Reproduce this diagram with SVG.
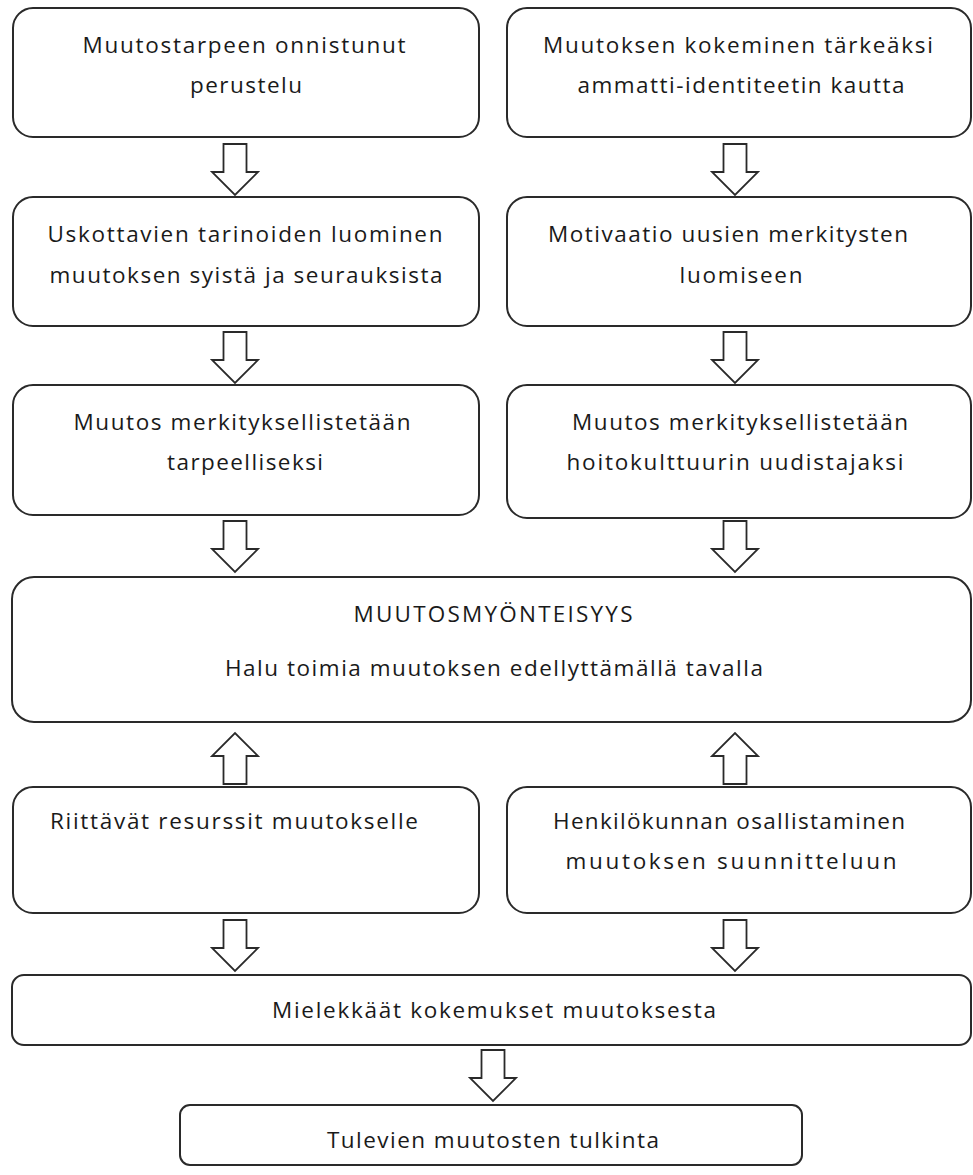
<svg xmlns="http://www.w3.org/2000/svg" width="973" height="1175" viewBox="0 0 973 1175">
<style>
.box{fill:#fff;stroke:#2a2a2a;stroke-width:2}
.arr{fill:#fff;stroke:#2a2a2a;stroke-width:1.8;stroke-linejoin:miter}
text{font-family:"Open Sans","Liberation Sans",sans-serif;font-size:22.5px;fill:#1a1a1a;text-anchor:middle}
</style>
<defs>
<path id="down" d="M-11.5,0 H11.5 V28 H23 L0,51 L-23,28 H-11.5 Z"/>
<path id="up" d="M-11.5,0 H11.5 V-28 H23 L0,-51 L-23,-28 H-11.5 Z"/>
</defs>
<rect width="973" height="1175" fill="#fff"/>
<g id="connectors">
<use href="#down" class="arr" x="235" y="144"/>
<use href="#down" class="arr" x="735" y="144"/>
<use href="#down" class="arr" x="235" y="332"/>
<use href="#down" class="arr" x="735" y="332"/>
<use href="#down" class="arr" x="235" y="521"/>
<use href="#down" class="arr" x="735" y="521"/>
<use href="#up" class="arr" x="235" y="784"/>
<use href="#up" class="arr" x="735" y="784"/>
<use href="#down" class="arr" x="235" y="920"/>
<use href="#down" class="arr" x="735" y="920"/>
<use href="#down" class="arr" x="493" y="1050"/>
</g>
<g id="n1"><rect class="box" x="13" y="8" width="466" height="129" rx="20"/>
<text x="244" y="53" textLength="323" lengthAdjust="spacing">Muutostarpeen onnistunut</text>
<text x="246" y="93" textLength="112" lengthAdjust="spacing">perustelu</text></g>
<g id="n2"><rect class="box" x="507" y="8" width="464" height="129" rx="20"/>
<text x="738" y="53" textLength="390" lengthAdjust="spacing">Muutoksen kokeminen tärkeäksi</text>
<text x="741" y="93" textLength="327" lengthAdjust="spacing">ammatti-identiteetin kautta</text></g>
<g id="n3"><rect class="box" x="13" y="197" width="466" height="129" rx="20"/>
<text x="245" y="242" textLength="395" lengthAdjust="spacing">Uskottavien tarinoiden luominen</text>
<text x="246" y="283" textLength="393" lengthAdjust="spacing">muutoksen syistä ja seurauksista</text></g>
<g id="n4"><rect class="box" x="507" y="197" width="464" height="129" rx="20"/>
<text x="728" y="242" textLength="360" lengthAdjust="spacing">Motivaatio uusien merkitysten</text>
<text x="741" y="283" textLength="123" lengthAdjust="spacing">luomiseen</text></g>
<g id="n5"><rect class="box" x="13" y="385" width="466" height="130" rx="20"/>
<text x="242" y="430" textLength="337" lengthAdjust="spacing">Muutos merkityksellistetään</text>
<text x="245" y="470" textLength="156" lengthAdjust="spacing">tarpeelliseksi</text></g>
<g id="n6"><rect class="box" x="507" y="385" width="464" height="133" rx="20"/>
<text x="740" y="430" textLength="336" lengthAdjust="spacing">Muutos merkityksellistetään</text>
<text x="735" y="470" textLength="337" lengthAdjust="spacing">hoitokulttuurin uudistajaksi</text></g>
<g id="n7"><rect class="box" x="12" y="577" width="959" height="145" rx="22"/>
<text x="493" y="622" textLength="279" lengthAdjust="spacing">MUUTOSMYÖNTEISYYS</text>
<text x="494" y="676" textLength="538" lengthAdjust="spacing">Halu toimia muutoksen edellyttämällä tavalla</text></g>
<g id="n8"><rect class="box" x="13" y="787" width="466" height="126" rx="20"/>
<text x="234" y="829" textLength="368" lengthAdjust="spacing">Riittävät resurssit muutokselle</text></g>
<g id="n9"><rect class="box" x="507" y="787" width="464" height="126" rx="20"/>
<text x="729" y="829" textLength="352" lengthAdjust="spacing">Henkilökunnan osallistaminen</text>
<text x="731" y="869" textLength="331" lengthAdjust="spacing">muutoksen suunnitteluun</text></g>
<g id="n10"><rect class="box" x="12" y="975" width="959" height="70" rx="12"/>
<text x="494" y="1018" textLength="444" lengthAdjust="spacing">Mielekkäät kokemukset muutoksesta</text></g>
<g id="n11"><rect class="box" x="180" y="1105" width="622" height="60" rx="10"/>
<text x="493" y="1148" textLength="332" lengthAdjust="spacing">Tulevien muutosten tulkinta</text></g>
</svg>
